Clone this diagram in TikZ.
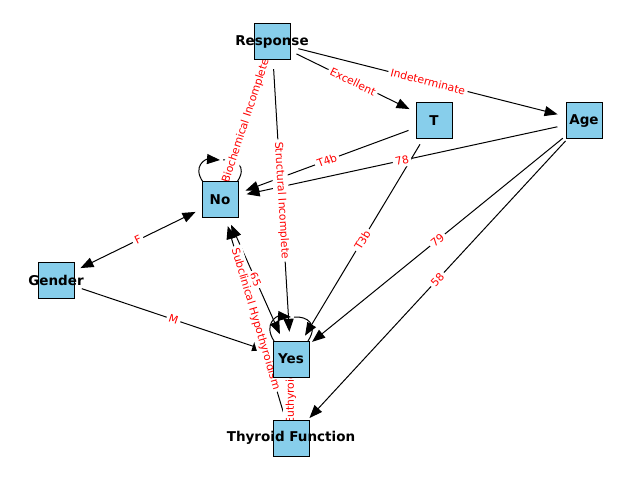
\documentclass[tikz,border=0pt]{standalone}
\usepackage{fontspec}
\setsansfont{DejaVu Sans}
\usetikzlibrary{arrows.meta}
\definecolor{boxblue}{HTML}{87CEEB}
\definecolor{labelred}{HTML}{FF0000}
\pgfdeclarelayer{edges}
\pgfdeclarelayer{edgelabels}
\pgfsetlayers{edges,edgelabels,main}
\tikzset{
  vertex/.style={
    circle, minimum size=54pt, inner sep=0pt,
    path picture={\draw[line width=1pt, fill=boxblue]
      ([shift={(-18pt,-18pt)}]path picture bounding box.center) rectangle
      ([shift={(18pt,18pt)}]path picture bounding box.center);},
    label={[vlabel]center:#1}
  },
  vlabel/.style={font=\sffamily\bfseries\fontsize{13.5}{16}\selectfont, text=black, inner sep=0pt},
  edge/.style={-{Triangle[length=13pt,width=10pt]}, line width=1pt, draw=black},
  biedge/.style={{Triangle[length=13pt,width=10pt]}-{Triangle[length=13pt,width=10pt]}, line width=1pt, draw=black},
  loopline/.style={line width=1pt, draw=black},
  elabel/.style={font=\sffamily\fontsize{10.8}{12}\selectfont, text=labelred, fill=white, inner sep=2.5pt, midway, sloped}
}

\begin{document}
\begin{tikzpicture}[x=1pt,y=1pt]
\useasboundingbox (0,0) rectangle (640,480);
\node[vertex=Response] (resp) at (272,438) {};
\node[vertex=T] (t) at (434,359) {};
\node[vertex=Age] (age) at (584,359) {};
\node[vertex=No] (no) at (220,280) {};
\node[vertex=Gender] (gender) at (56,200) {};
\node[vertex=Yes] (yes) at (291,121) {};
\node[vertex=Thyroid Function] (thyroid) at (291,42) {};

\begin{pgfonlayer}{edges}
\draw[edge] (resp) -- (no);
\draw[edge] (resp) -- (yes);
\draw[edge] (resp) -- (t);
\draw[edge] (resp) -- (age);
\draw[edge] (t) -- (no);
\draw[edge] (t) -- (yes);
\draw[edge] (age) -- (no);
\draw[edge] (age) -- (yes);
\draw[edge] (age) -- (thyroid);
\draw[biedge] (gender) -- (no);
\draw[edge] (gender) -- (yes);
\draw[biedge] (no) -- (yes);
\draw[edge] (thyroid) -- (no);
\draw[edge] (thyroid) -- (yes);
% self loops
\draw[edge] ([shift={(-17pt,18pt)}]no.center) .. controls ([shift={(-28pt,34pt)}]no.center) and ([shift={(-14pt,41pt)}]no.center) .. ([shift={(0pt,40pt)}]no.center);
\draw[loopline] ([shift={(3pt,40pt)}]no.center) .. controls ([shift={(16pt,41pt)}]no.center) and ([shift={(28pt,34pt)}]no.center) .. ([shift={(17pt,18pt)}]no.center);
\draw[edge] ([shift={(-17pt,18pt)}]yes.center) .. controls ([shift={(-28pt,35pt)}]yes.center) and ([shift={(-14pt,43pt)}]yes.center) .. ([shift={(0pt,42pt)}]yes.center);
\draw[loopline] ([shift={(3pt,42pt)}]yes.center) .. controls ([shift={(16pt,43pt)}]yes.center) and ([shift={(28pt,35pt)}]yes.center) .. ([shift={(17pt,18pt)}]yes.center);
\end{pgfonlayer}

\begin{pgfonlayer}{edgelabels}
\path (resp) -- (no) node[elabel] {Biochemical Incomplete};
\path (resp) -- (yes) node[elabel] {Structural Incomplete};
\path (resp) -- (t) node[elabel] {Excellent};
\path (resp) -- (age) node[elabel] {Indeterminate};
\path (t) -- (no) node[elabel] {T4b};
\path (t) -- (yes) node[elabel] {T3b};
\path (age) -- (no) node[elabel] {78};
\path (age) -- (yes) node[elabel] {79};
\path (age) -- (thyroid) node[elabel] {58};
\path (gender) -- (no) node[elabel] {F};
\path (gender) -- (yes) node[elabel] {M};
\path (no) -- (yes) node[elabel] {65};
\path (thyroid) -- (no) node[elabel] {Subclinical Hypothyroidism};
\path (thyroid) -- (yes) node[elabel] {Euthyroid};
\end{pgfonlayer}
\end{tikzpicture}
\end{document}
